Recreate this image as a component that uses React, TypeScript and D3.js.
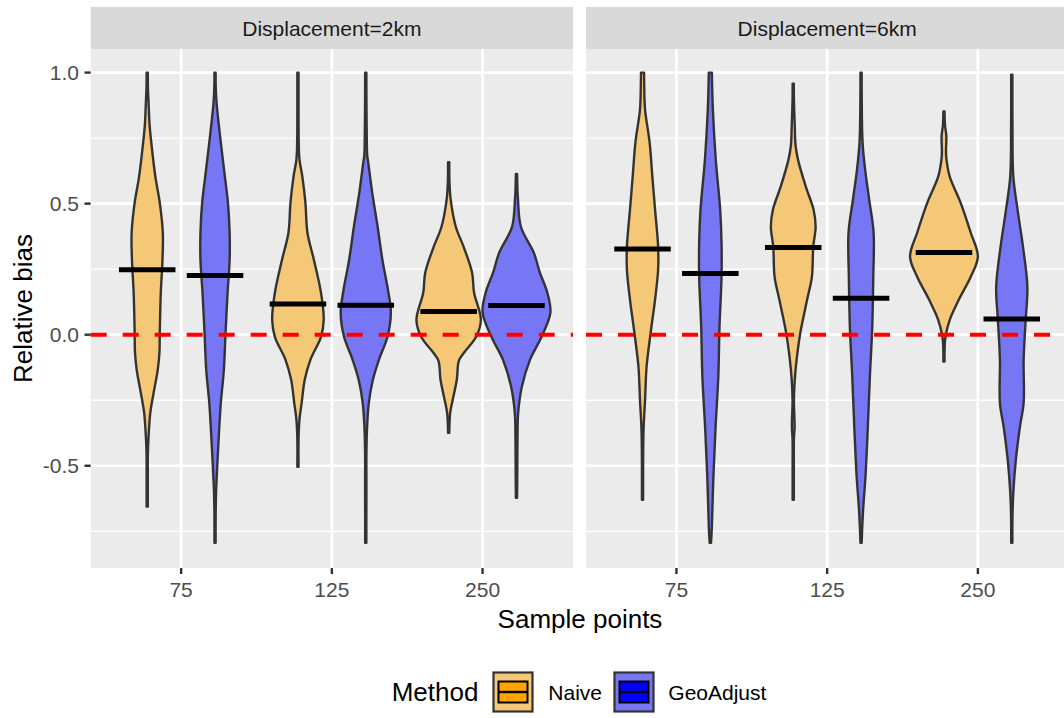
import React from "react";
import * as d3 from "d3";

// Facets, categories and methods
const facets = ["Displacement=2km", "Displacement=6km"];
const sampleSizes = ["75", "125", "250"];
const methods = ["Naive", "GeoAdjust"];
const methodFill = ["#F5C878", "#7777F5"];
const methodKey = ["#FFA500", "#0000FF"];

// Violin density profiles: [relative bias, relative density]
const naive2km75 = [[1.0,0],[0.95,0.02],[0.885,0.04],[0.8,0.07],[0.733,0.12],[0.603,0.24],[0.504,0.37],[0.389,0.46],[0.286,0.45],[0.16,0.4],[0.008,0.37],[-0.069,0.36],[-0.134,0.31],[-0.221,0.19],[-0.298,0.09],[-0.389,0.04],[-0.45,0.02],[-0.55,0.015],[-0.656,0]];
const geo2km75 = [[1.0,0],[0.95,0.02],[0.885,0.045],[0.733,0.17],[0.603,0.29],[0.504,0.38],[0.389,0.43],[0.286,0.43],[0.16,0.37],[0.008,0.31],[-0.134,0.26],[-0.26,0.17],[-0.389,0.11],[-0.542,0.05],[-0.603,0.03],[-0.7,0.015],[-0.794,0]];
const naive2km125 = [[1.0,0],[0.85,0.015],[0.72,0.025],[0.668,0.045],[0.603,0.13],[0.504,0.22],[0.389,0.28],[0.286,0.47],[0.16,0.68],[0.057,0.76],[-0.008,0.68],[-0.095,0.37],[-0.172,0.2],[-0.26,0.11],[-0.324,0.045],[-0.4,0.015],[-0.504,0]];
const geo2km125 = [[1.0,0],[0.9,0.02],[0.75,0.03],[0.681,0.045],[0.66,0.07],[0.542,0.19],[0.412,0.35],[0.286,0.49],[0.16,0.67],[0.084,0.74],[-0.008,0.64],[-0.095,0.39],[-0.172,0.21],[-0.26,0.09],[-0.351,0.04],[-0.45,0.02],[-0.6,0.02],[-0.7,0.015],[-0.794,0]];
const naive2km250 = [[0.658,0],[0.58,0.025],[0.515,0.06],[0.412,0.21],[0.336,0.44],[0.237,0.69],[0.16,0.75],[0.057,0.95],[-0.008,0.81],[-0.069,0.45],[-0.1,0.3],[-0.172,0.24],[-0.248,0.12],[-0.298,0.045],[-0.374,0]];
const geo2km250 = [[0.613,0],[0.55,0.03],[0.515,0.045],[0.412,0.13],[0.313,0.51],[0.237,0.69],[0.16,0.91],[0.084,1.0],[-0.008,0.74],[-0.095,0.4],[-0.198,0.16],[-0.298,0.05],[-0.4,0.03],[-0.5,0.025],[-0.622,0]];
const naive6km75 = [[1.0,0.045],[0.95,0.05],[0.859,0.075],[0.733,0.21],[0.603,0.29],[0.477,0.37],[0.336,0.46],[0.248,0.46],[0.134,0.37],[0.008,0.24],[-0.122,0.12],[-0.248,0.075],[-0.363,0.03],[-0.5,0.015],[-0.63,0]];
const geo6km75 = [[1.0,0.045],[0.859,0.075],[0.668,0.16],[0.477,0.29],[0.351,0.33],[0.221,0.33],[0.031,0.27],[-0.16,0.235],[-0.351,0.155],[-0.542,0.09],[-0.733,0.045],[-0.794,0.02]];
const naive6km125 = [[0.958,0],[0.9,0.02],[0.795,0.045],[0.72,0.07],[0.668,0.14],[0.565,0.37],[0.477,0.6],[0.412,0.66],[0.336,0.59],[0.221,0.55],[0.134,0.41],[0.008,0.21],[-0.095,0.1],[-0.172,0.045],[-0.25,0.02],[-0.35,0.04],[-0.4,0.02],[-0.5,0.015],[-0.63,0]];
const geo6km125 = [[1.0,0],[0.9,0.02],[0.733,0.045],[0.63,0.12],[0.515,0.24],[0.389,0.37],[0.221,0.36],[0.031,0.33],[-0.16,0.26],[-0.351,0.2],[-0.542,0.13],[-0.668,0.06],[-0.75,0.03],[-0.794,0]];
const naive6km250 = [[0.852,0],[0.8,0.03],[0.757,0.07],[0.7,0.06],[0.668,0.075],[0.603,0.17],[0.504,0.49],[0.389,0.79],[0.298,1.0],[0.221,0.79],[0.134,0.44],[0.057,0.17],[-0.008,0.045],[-0.05,0.02],[-0.102,0]];
const geo6km250 = [[0.992,0],[0.8,0.02],[0.604,0.045],[0.477,0.17],[0.336,0.33],[0.183,0.46],[0.057,0.41],[-0.095,0.35],[-0.26,0.35],[-0.351,0.24],[-0.477,0.12],[-0.603,0.045],[-0.7,0.02],[-0.794,0]];

// Medians per facet, per method, per sample size
const median2kmNaive = [0.248, 0.117, 0.089];
const median2kmGeo = [0.226, 0.112, 0.111];
const median6kmNaive = [0.327, 0.333, 0.314];
const median6kmGeo = [0.234, 0.139, 0.06];

const yTicks = [-0.5, 0, 0.5, 1.0];
const yTickLabels = ["-0.5", "0.0", "0.5", "1.0"];
const yMinor = [-0.75, -0.25, 0.25, 0.75];

const violins = [
  [[naive2km75, naive2km125, naive2km250], [geo2km75, geo2km125, geo2km250]],
  [[naive6km75, naive6km125, naive6km250], [geo6km75, geo6km125, geo6km250]],
];
const medians = [
  [median2kmNaive, median2kmGeo],
  [median6kmNaive, median6kmGeo],
];

const W = 1064;
const H = 718;
const panelLeft = [90.7, 586];
const panelW = 482.3;
const panelTop = 49;
const panelBottom = 568;
const stripTop = 7;

const font = "'Liberation Sans', Arial, sans-serif";

export default function App() {
  const y = d3.scaleLinear().domain([-0.89, 1.09]).range([panelBottom, panelTop]);

  const panels = facets.map((facet, fi) => {
    const x = d3
      .scalePoint<string>()
      .domain(sampleSizes)
      .range([panelLeft[fi], panelLeft[fi] + panelW])
      .padding(0.6);
    const step = x.step();
    const dodge = d3.scaleBand<number>().domain([0, 1]).range([-0.45 * step, 0.45 * step]);
    const halfW = d3.scaleLinear().domain([0, 1]).range([0, 0.225 * step]);
    const L = panelLeft[fi];
    const R = L + panelW;

    const marks: React.ReactNode[] = [];
    const lines: React.ReactNode[] = [];
    sampleSizes.forEach((s, si) => {
      methods.forEach((m, mi) => {
        const cx = (x(s) as number) + (dodge(mi) as number) + dodge.bandwidth() / 2;
        const prof = violins[fi][mi][si] as number[][];
        const area = d3
          .area<number[]>()
          .y((d) => y(d[0]))
          .x0((d) => cx - Math.max(halfW(d[1]), 0.6))
          .x1((d) => cx + Math.max(halfW(d[1]), 0.6))
          .curve(d3.curveCatmullRom.alpha(0.5));
        marks.push(
          <path
            key={`v-${si}-${mi}`}
            d={area(prof) || ""}
            fill={methodFill[mi]}
            stroke="#333333"
            strokeWidth={2.4}
            strokeLinejoin="round"
          />
        );
        const med = medians[fi][mi][si];
        const half = 0.1875 * step;
        lines.push(
          <line
            key={`m-${si}-${mi}`}
            x1={cx - half}
            x2={cx + half}
            y1={y(med)}
            y2={y(med)}
            stroke="#000"
            strokeWidth={5}
          />
        );
      });
    });

    return (
      <g key={facet}>
        <rect x={L} y={stripTop} width={panelW} height={panelTop - stripTop} fill="#D9D9D9" />
        <text
          x={(L + R) / 2}
          y={(stripTop + panelTop) / 2}
          dy="0.36em"
          textAnchor="middle"
          fontSize={21}
          fill="#1A1A1A"
          fontFamily={font}
        >
          {facet}
        </text>
        <rect x={L} y={panelTop} width={panelW} height={panelBottom - panelTop} fill="#EBEBEB" />
        {yMinor.map((t) => (
          <line key={`mi${t}`} x1={L} x2={R} y1={y(t)} y2={y(t)} stroke="#fff" strokeWidth={1.3} />
        ))}
        {yTicks.map((t) => (
          <line key={`ma${t}`} x1={L} x2={R} y1={y(t)} y2={y(t)} stroke="#fff" strokeWidth={2.6} />
        ))}
        {sampleSizes.map((s) => (
          <line key={`xg${s}`} x1={x(s)} x2={x(s)} y1={panelTop} y2={panelBottom} stroke="#fff" strokeWidth={2.6} />
        ))}
        {marks}
        {lines}
        <line
          x1={L}
          x2={R}
          y1={y(0)}
          y2={y(0)}
          stroke="#FF0000"
          strokeWidth={4}
          strokeDasharray="16 16"
        />
        {sampleSizes.map((s) => (
          <g key={`xt${s}`}>
            <line x1={x(s)} x2={x(s)} y1={panelBottom} y2={panelBottom + 6} stroke="#333" strokeWidth={2.4} />
            <text
              x={x(s)}
              y={597}
              textAnchor="middle"
              fontSize={21}
              fill="#4D4D4D"
              fontFamily={font}
            >
              {s}
            </text>
          </g>
        ))}
      </g>
    );
  });

  const legendY = 692;
  const keys = [
    { x: 493.5, label: "Naive", lx: 548.3 },
    { x: 614.5, label: "GeoAdjust", lx: 668.3 },
  ];

  return (
    <div style={{ position: "absolute", left: 0, top: 0 }}>
      <svg width={W} height={H} style={{ display: "block" }}>
        <rect width={W} height={H} fill="#fff" />
        {panels}
        {yTicks.map((t, i) => (
          <g key={`yt${t}`}>
            <line x1={84.5} x2={panelLeft[0]} y1={y(t)} y2={y(t)} stroke="#333" strokeWidth={2.4} />
            <text
              x={79}
              y={y(t)}
              dy="0.36em"
              textAnchor="end"
              fontSize={21}
              fill="#4D4D4D"
              fontFamily={font}
            >
              {yTickLabels[i]}
            </text>
          </g>
        ))}
        <text
          transform={`translate(32,${(panelTop + panelBottom) / 2}) rotate(-90)`}
          textAnchor="middle"
          fontSize={26}
          fill="#000"
          fontFamily={font}
        >
          Relative bias
        </text>
        <text x={580} y={628} textAnchor="middle" fontSize={26} fill="#000" fontFamily={font}>
          Sample points
        </text>
        <text x={391.7} y={legendY} dy="0.36em" fontSize={26} fill="#000" fontFamily={font}>
          Method
        </text>
        {keys.map((k, i) => (
          <g key={k.label}>
            <rect
              x={k.x}
              y={legendY - 19.5}
              width={39}
              height={39}
              fill={methodFill[i]}
              stroke="#333"
              strokeWidth={2.2}
            />
            <rect
              x={k.x + 5}
              y={legendY - 10.5}
              width={29}
              height={21}
              fill={methodKey[i]}
              stroke="#000"
              strokeWidth={2}
            />
            <line x1={k.x + 5} x2={k.x + 34} y1={legendY} y2={legendY} stroke="#000" strokeWidth={2.4} />
            <text x={k.lx} y={legendY} dy="0.36em" fontSize={21} fill="#000" fontFamily={font}>
              {k.label}
            </text>
          </g>
        ))}
      </svg>
    </div>
  );
}
